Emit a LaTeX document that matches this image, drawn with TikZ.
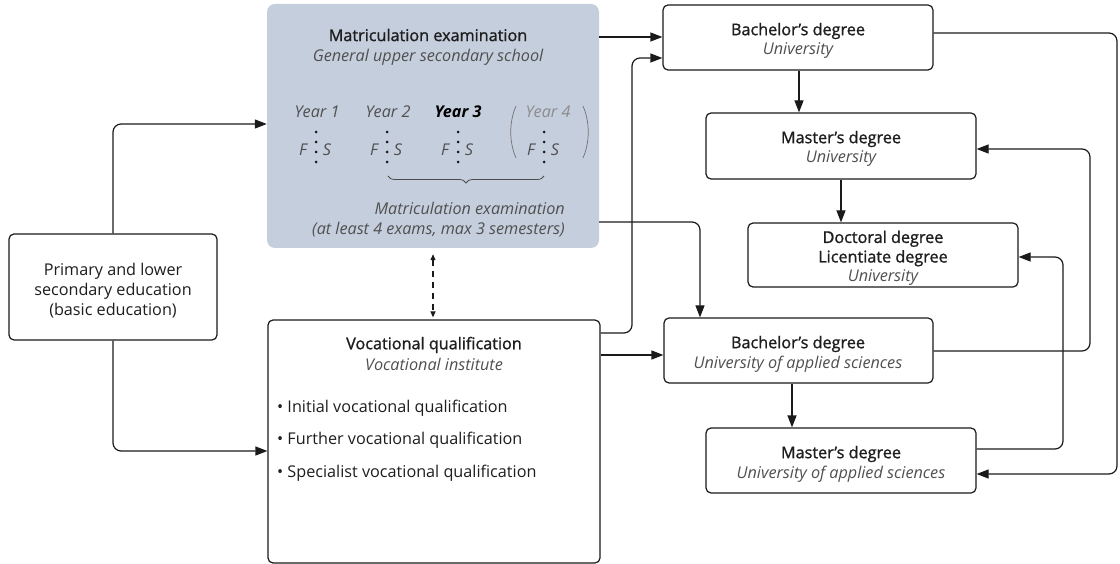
\documentclass[tikz,border=0pt]{standalone}
\usepackage{fontspec}
\setmainfont{Open Sans}
\newfontfamily\semib[FakeBold=1.2]{Open Sans}
\usetikzlibrary{arrows.meta,decorations.pathreplacing,calc}
\definecolor{matfill}{HTML}{C5CEDC}
\definecolor{subgray}{HTML}{505050}
\definecolor{linec}{HTML}{1A1A1A}
\definecolor{txt}{HTML}{1E1E1E}
\begin{document}
\begin{tikzpicture}[x=1pt,y=-1pt,
 box/.style={draw=linec, line width=1.2pt, rounded corners=5pt, fill=white, inner sep=0pt},
 ttl/.style={font=\fontsize{16.2}{19.5}\selectfont\semib, text=txt, align=center, inner sep=0pt},
 reg/.style={font=\fontsize{16.2}{19.5}\selectfont, text=txt, align=center, inner sep=0pt},
 sub/.style={font=\fontsize{16.2}{19.5}\selectfont\itshape, text=subgray, inner sep=0pt},
 arr/.style={draw=linec, line width=1.2pt, rounded corners=8pt, -{Triangle[length=12pt,width=9pt]}},
 fsdot/.style={fill=linec},
]
\useasboundingbox (0,0) rectangle (1120,564);

% boxes
\node[fill=matfill, rounded corners=8pt, inner sep=0pt, minimum width=332pt, minimum height=244pt] (mat) at (433,126) {};
\node[box, minimum width=208pt, minimum height=106pt] (pri) at (113,287) {};
\node[box, minimum width=332pt, minimum height=243pt] (voc) at (434,441.5) {};
\node[box, minimum width=270pt, minimum height=65pt] (bu) at (798,37.5) {};
\node[box, minimum width=270pt, minimum height=66pt] (mu) at (841,146) {};
\node[box, minimum width=270pt, minimum height=64pt] (doc) at (883,255) {};
\node[box, minimum width=269pt, minimum height=65pt] (bua) at (798.5,350.5) {};
\node[box, minimum width=270pt, minimum height=65pt] (mua) at (841,460.5) {};

% matriculation contents
\node[ttl] (matT) at (428,35) {Matriculation examination};
\node[sub] (matS) at (428,57) {General upper secondary school};
\node[sub] (y1) at (317,112) {Year 1};
\node[sub] (y2) at (388,112) {Year 2};
\node[sub, text=black, font=\fontsize{16.2}{19.5}\selectfont\bfseries\itshape] (y3) at (458,112) {Year 3};
\node[sub, text=black!45] (y4) at (548,112) {Year 4};
\foreach \xx/\nm in {316/a,387/b,458/c,544/d}{
  \node[sub] (F\nm) at (\xx-13,150) {F};
  \node[sub] (S\nm) at (\xx+11,150) {S};
  \foreach \yy in {132,142,152,162} \fill[fsdot] (\xx,\yy) circle (1.5pt);
}
\draw[black!55, line width=0.7pt] (516,106) .. controls (509,122) and (509,142) .. (516,158);
\draw[black!55, line width=0.7pt] (583,106) .. controls (590,122) and (590,142) .. (583,158);
\draw[decorate, decoration={brace, mirror, amplitude=7pt}, line width=0.8pt, color=black!70] (388,176) -- (544,176);
\node[sub, anchor=east] (me1) at (565,208) {Matriculation examination};
\node[sub, anchor=east] (me2) at (565,230) {(at least 4 exams, max 3 semesters)};

% primary
\node[reg, font=\fontsize{16.2}{20}\selectfont] (priT) at (113,291) {Primary and lower\\secondary education\\(basic education)};

% vocational
\node[ttl] (vocT) at (434,345) {Vocational qualification};
\node[sub] (vocS) at (434,364) {Vocational institute};
\node[reg, anchor=west] (b1) at (277,408) {\textbullet\ Initial vocational qualification};
\node[reg, anchor=west] (b2) at (277,440) {\textbullet\ Further vocational qualification};
\node[reg, anchor=west] (b3) at (277,473) {\textbullet\ Specialist vocational qualification};

% degrees
\node[ttl] (buT) at (798,31) {Bachelor’s degree};
\node[sub] (buS) at (798,51) {University};
\node[ttl] (muT) at (841,139) {Master’s degree};
\node[sub] (muS) at (841,159) {University};
\node[ttl] (docT) at (883,248.5) {Doctoral degree\\Licentiate degree};
\node[sub] (docS) at (883,278) {University};
\node[ttl] (buaT) at (798,344) {Bachelor’s degree};
\node[sub] (buaS) at (798,364) {University of applied sciences};
\node[ttl] (muaT) at (841,454) {Master’s degree};
\node[sub] (muaS) at (841,474) {University of applied sciences};

% connectors
\draw[arr] (mat.east |- 0,37) -- (bu.west |- 0,37);
\draw[arr] (voc.east |- 0,333) -- (632,333) -- (632,58) -- (bu.west |- 0,58);
\draw[arr] (mat.east |- 0,222) -- (700,222) -- (bua.north -| 700,0);
\draw[arr] (voc.east |- 0,355) -- (bua.west |- 0,355);
\draw[arr] (bu.south -| 799,0) -- (mu.north -| 799,0);
\draw[arr] (mu.south) -- (mu.south |- doc.north);
\draw[arr] (bua.south -| 792,0) -- (mua.north -| 792,0);
\draw[arr] (bu.east |- 0,33) -- (1117,33) -- (1117,474) -- (mua.east |- 0,474);
\draw[arr] (bua.east |- 0,351) -- (1090,351) -- (1090,149) -- (mu.east |- 0,149);
\draw[arr] (mua.east |- 0,449) -- (1063,449) -- (1063,257) -- (doc.east |- 0,257);
\draw[arr] (pri.north) -- (113,124) -- (mat.west |- 0,124);
\draw[arr] (pri.south) -- (113,451) -- (voc.west |- 0,451);
\draw[draw=linec, line width=1.1pt, dash pattern=on 6pt off 5pt, {Triangle[length=6pt,width=5pt]}-{Triangle[length=6pt,width=5pt]}, shorten <=6pt, shorten >=2pt] (mat.south -| 433,0) -- (voc.north -| 433,0);
\end{tikzpicture}
\end{document}
